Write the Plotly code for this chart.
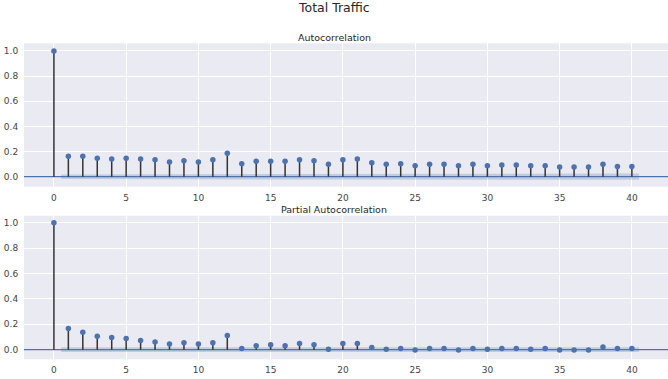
import plotly.graph_objects as go

lags = list(range(41))
acf_vals = [1.0, 0.162, 0.162, 0.146, 0.141, 0.146, 0.141, 0.135, 0.117, 0.127, 0.117,
            0.135, 0.186, 0.103, 0.122, 0.122, 0.122, 0.135, 0.127, 0.098, 0.135,
            0.141, 0.111, 0.098, 0.103, 0.088, 0.098, 0.098, 0.088, 0.098, 0.088,
            0.093, 0.093, 0.088, 0.088, 0.077, 0.077, 0.077, 0.098, 0.082, 0.082]
pacf_vals = [1.0, 0.166, 0.138, 0.106, 0.096, 0.088, 0.073, 0.060, 0.044, 0.055, 0.044,
             0.055, 0.112, 0.010, 0.031, 0.039, 0.031, 0.049, 0.039, 0.003, 0.049,
             0.049, 0.016, 0.003, 0.010, -0.003, 0.010, 0.010, -0.003, 0.010, 0.003,
             0.010, 0.010, 0.003, 0.010, -0.003, -0.003, -0.003, 0.021, 0.010, 0.010]
acf_conf = [0.018, 0.019, 0.019, 0.020, 0.020, 0.020, 0.020, 0.021, 0.021, 0.021,
            0.021, 0.021, 0.022, 0.022, 0.022, 0.022, 0.022, 0.022, 0.023, 0.023,
            0.023, 0.023, 0.023, 0.023, 0.023, 0.024, 0.024, 0.024, 0.024, 0.024,
            0.024, 0.024, 0.024, 0.024, 0.024, 0.025, 0.025, 0.025, 0.025, 0.025]
pacf_conf = [0.018] * 40
xticks = [0, 5, 10, 15, 20, 25, 30, 35, 40]
yticks = [0.0, 0.2, 0.4, 0.6, 0.8, 1.0]

BLUE = "#4C72B0"
FONT = "DejaVu Sans"
W, H = 668, 379

fig = go.Figure()


def add_panel(vals, conf, xa, ya):
    xs, ys = [], []
    for l, v in zip(lags, vals):
        xs += [l, l, None]
        ys += [0, v, None]
    band_x = [lags[1] - 0.5] + list(lags[2:40]) + [lags[40] + 0.5]
    fig.add_trace(go.Scatter(x=band_x, y=list(conf), mode="lines",
                             line=dict(width=0), xaxis=xa, yaxis=ya,
                             hoverinfo="skip", showlegend=False))
    fig.add_trace(go.Scatter(x=band_x, y=[-c for c in conf], mode="lines",
                             line=dict(width=0), fill="tonexty",
                             fillcolor="rgba(76,114,176,0.25)", xaxis=xa, yaxis=ya,
                             hoverinfo="skip", showlegend=False))
    fig.add_trace(go.Scatter(x=[-10, 60], y=[0, 0], mode="lines",
                             line=dict(color=BLUE, width=1.3), xaxis=xa, yaxis=ya,
                             hoverinfo="skip", showlegend=False))
    fig.add_trace(go.Scatter(x=xs, y=ys, mode="lines",
                             line=dict(color="#333333", width=1.5), xaxis=xa, yaxis=ya,
                             hoverinfo="skip", showlegend=False))
    fig.add_trace(go.Scatter(x=lags, y=vals, mode="markers",
                             marker=dict(color=BLUE, size=5.5), xaxis=xa, yaxis=ya,
                             showlegend=False))


add_panel(acf_vals, acf_conf, "x", "y")
add_panel(pacf_vals, pacf_conf, "x2", "y2")

ax_common = dict(showgrid=True, gridcolor="white", gridwidth=1.2, zeroline=False,
                 showline=False, ticks="outside", tickcolor="rgba(0,0,0,0)",
                 tickfont=dict(family=FONT, size=9, color="#444444"), automargin=False)


def py(pix):
    return 1 - pix / H


L = 24
fig.update_layout(
    width=W, height=H,
    margin=dict(l=L, r=0, t=0, b=0),
    paper_bgcolor="white", plot_bgcolor="#EAEAF2",
    font=dict(family=FONT),
    xaxis=dict(domain=[0, 1], range=[-2.07, 42.5], tickvals=xticks, ticklen=2.5,
               anchor="y", **ax_common),
    yaxis=dict(domain=[py(186.7), py(43.3)], range=[-0.0796, 1.061], ticklen=3,
               tickvals=yticks, tickformat=".1f", anchor="x", **ax_common),
    xaxis2=dict(domain=[0, 1], range=[-2.07, 42.5], tickvals=xticks, ticklen=1.5,
                anchor="y2", **ax_common),
    yaxis2=dict(domain=[py(359.3), py(215.7)], range=[-0.076, 1.055], ticklen=3,
                tickvals=yticks, tickformat=".1f", anchor="x2", **ax_common),
    annotations=[
        dict(text="Total Traffic", x=(334 - L) / (W - L), y=py(8), xref="paper", yref="paper",
             xanchor="center", yanchor="middle", showarrow=False,
             font=dict(family=FONT, size=12.5, color="#262626")),
        dict(text="Autocorrelation", x=(334 - L) / (W - L), y=py(37), xref="paper", yref="paper",
             xanchor="center", yanchor="middle", showarrow=False,
             font=dict(family=FONT, size=9.5, color="#262626")),
        dict(text="Partial Autocorrelation", x=(334 - L) / (W - L), y=py(209), xref="paper", yref="paper",
             xanchor="center", yanchor="middle", showarrow=False,
             font=dict(family=FONT, size=9.5, color="#262626")),
    ],
)

fig.write_html("out.html", config={"displayModeBar": False},
               post_script="document.body.style.margin='0';document.body.style.overflow='hidden';")
